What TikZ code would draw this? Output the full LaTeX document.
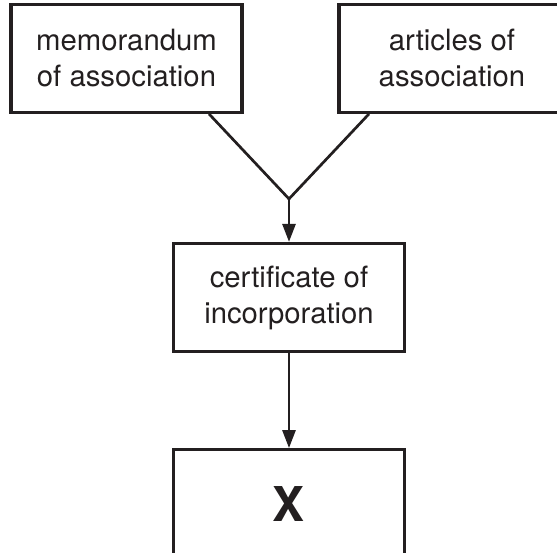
\documentclass[tikz,border=0pt]{standalone}
\usepackage{fontspec}
\setmainfont{TeX Gyre Heros}
\usetikzlibrary{arrows.meta,positioning}
\definecolor{ink}{HTML}{231F20}

\begin{document}
\begin{tikzpicture}[x=1pt,y=1pt,>={Triangle[length=18pt,width=13pt]},
    line width=2.7pt,color=ink,
    box/.style={draw,line width=3.2pt,minimum width=231pt,minimum height=108pt,
      align=center,font=\fontsize{29.3}{36}\selectfont}]
  \useasboundingbox (0,0) rectangle (557,552);
  \clip (0,0) rectangle (557,552);

  \node[box]              (cert) at (289,254.5)                      {certificate of\\incorporation};
  \node[box]              (mem)  [above=128pt of cert,xshift=-162.5pt] {memorandum\\of association};
  \node[box,minimum width=226pt] (art) [above=128pt of cert,xshift=163pt] {articles of\\association};
  \node[box,font=\fontsize{48}{48}\selectfont\bfseries] (x) [below=95pt of cert] {X};
  \coordinate             (join) at ([yshift=43pt]cert.north);

  \draw ([xshift=82.5pt]mem.south) -- (join) -- ([xshift=-83pt]art.south);
  \path[->] (join) edge (cert)
            (cert) edge (x);
\end{tikzpicture}
\end{document}
